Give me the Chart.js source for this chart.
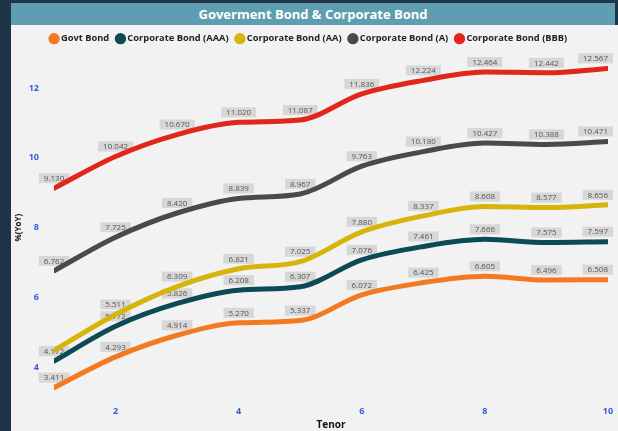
<!DOCTYPE html>
<html><head><meta charset="utf-8">
<script src="https://cdn.jsdelivr.net/npm/chart.js@4"></script>
<style>
html,body{margin:0;padding:0;width:618px;height:431px;background:#1f3449;overflow:hidden;}
#title{position:absolute;left:11px;top:3px;width:604px;height:22px;background:#5e9eb0;color:#fff;font:bold 13px "Open Sans",sans-serif;text-align:center;line-height:22px;}
#wrap{position:absolute;left:11px;top:25px;width:607px;height:406px;background:#f2f2f2;}
canvas{display:block;}
</style></head><body>
<div id="title">Goverment Bond &amp; Corporate Bond</div>
<div id="wrap"><canvas id="c" width="607" height="406"></canvas></div>
<script>
const tenor = [1,2,3,4,5,6,7,8,9,10];
const seriesNames = ['Govt Bond','Corporate Bond (AAA)','Corporate Bond (AA)','Corporate Bond (A)','Corporate Bond (BBB)'];
const govt = [3.411,4.293,4.914,5.270,5.337,6.072,6.425,6.605,6.496,6.508];
const aaa  = [4.172,5.172,5.826,6.208,6.307,7.076,7.461,7.666,7.575,7.597];
const aa   = [4.480,5.511,6.309,6.821,7.025,7.880,8.337,8.608,8.577,8.656];
const a    = [6.762,7.725,8.420,8.839,8.967,9.763,10.180,10.427,10.388,10.471];
const bbb  = [9.130,10.042,10.670,11.020,11.087,11.836,12.224,12.464,12.442,12.567];
const xTicks = [2,4,6,8,10];
const yTicks = [4,6,8,10,12];
const colors = ['#f37a21','#0c4b55','#d6b40b','#4a4a4a','#e1261c'];
const hiddenLabels = {2:[0]};

const all = [govt,aaa,aa,a,bbb];
const datasets = all.map((vals,i)=>({
  label: seriesNames[i],
  data: tenor.map((t,j)=>({x:t,y:vals[j]})),
  borderColor: colors[i], backgroundColor: colors[i],
  borderWidth: 5, pointRadius: 0, cubicInterpolationMode:'monotone', borderCapStyle:'round', borderJoinStyle:'round'
}));

const labelPlugin = {
  id:'dlabels',
  beforeDatasetsDraw(chart){
    const ctx = chart.ctx;
    ctx.save();
    ctx.font = '8px "Open Sans", sans-serif';
    ctx.textAlign='center'; ctx.textBaseline='middle';
    chart.data.datasets.forEach((ds,i)=>{
      const meta = chart.getDatasetMeta(i);
      meta.data.forEach((pt,j)=>{
        if (hiddenLabels[i] && hiddenLabels[i].includes(j)) return;
        const txt = ds.data[j].y.toFixed(3);
        const w = ctx.measureText(txt).width + 10, h = 10;
        let cx = pt.x; const cy = pt.y - 10;
        const maxRight = chart.width - 5;
        if (cx + w/2 > maxRight) cx = maxRight - w/2;
        ctx.fillStyle = 'rgba(212,212,212,0.9)';
        ctx.fillRect(cx - w/2, cy - h/2, w, h);
        ctx.fillStyle = '#555555';
        ctx.fillText(txt, cx, cy+0.5);
      });
    });
    ctx.restore();
  }
};

new Chart(document.getElementById('c'), {
  type:'line',
  data:{datasets},
  plugins:[labelPlugin],
  options:{
    responsive:false, animation:false,
    layout:{padding:{left:0,right:10,top:0,bottom:0}},
    plugins:{
      legend:{position:'top',labels:{usePointStyle:true,pointStyle:'circle',boxWidth:4.5,boxHeight:4.5,padding:9,color:'#252423',font:{family:'"Open Sans", sans-serif',size:9.3,weight:'bold'}}},
      tooltip:{enabled:false}
    },
    scales:{
      x:{type:'linear',min:1,max:10,
        afterBuildTicks:s=>{s.ticks=xTicks.map(v=>({value:v}));},
        afterFit:s=>{s.height=29;},
        grid:{display:false,drawTicks:false}, border:{display:false},
        ticks:{color:'#3a5bd9',padding:4,font:{family:'"Open Sans", sans-serif',size:9,weight:'bold'}},
        title:{display:true,text:'Tenor',color:'#111',padding:0,font:{family:'"Open Sans", sans-serif',size:10,weight:'bold'}}
      },
      y:{min:3,max:13,
        afterBuildTicks:s=>{s.ticks=yTicks.map(v=>({value:v}));},
        afterFit:s=>{s.width=43;},
        grid:{display:false,drawTicks:false}, border:{display:false},
        ticks:{color:'#3a5bd9',padding:15,font:{family:'"Open Sans", sans-serif',size:9,weight:'bold'}},
        title:{display:true,text:'%(YoY)',color:'#111',padding:{top:3,bottom:0},font:{family:'"Open Sans", sans-serif',size:8,weight:'bold'}}
      }
    }
  }
});
</script></body></html>
